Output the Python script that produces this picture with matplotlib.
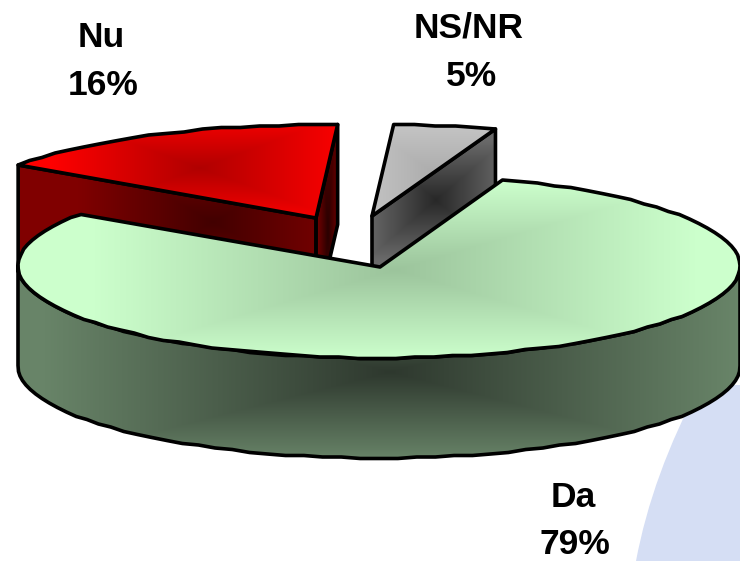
import numpy as np
import matplotlib
matplotlib.use('Agg')
import matplotlib.pyplot as plt
from matplotlib.patches import Polygon, PathPatch
from matplotlib.path import Path

categories = ['Da', 'Nu', 'NS/NR']
percent_labels = [79, 16, 5]
slice_sizes = [79.0, 16.4, 4.6]

plt.rcParams['font.family'] = ['Liberation Sans', 'DejaVu Sans']

RX, RY, DEPTH = 361, 92, 100
LW = 2.6
START = 70
CENTERS = {'Da': (379, 266), 'Nu': (316, 217), 'NS/NR': (372, 216)}
LABEL_POS = {'Da': (573, 497), 'Nu': (101, 37), 'NS/NR': (469, 28)}

fig = plt.figure(figsize=(7.4, 5.61), dpi=100)
ax = fig.add_axes([0, 0, 1, 1])
ax.set_xlim(0, 740)
ax.set_ylim(561, 0)
ax.axis('off')

xx, yy = np.meshgrid(np.arange(740) + 0.5, np.arange(561) + 0.5)


def rim(cx, cy, t0, t1):
    # rim of the tilted disc, y snapped a little for the slightly stepped outline
    n = max(2, int(abs(t1 - t0) / 3))
    t = np.radians(np.linspace(t0, t1, n + 1))
    y = cy - RY * np.sin(t)
    return np.column_stack([cx + RX * np.cos(t), np.round(y / 1.5) * 1.5])


def shaded(points, center, rx, ry, inner, outer, z):
    # rectangular gradient from center to the box edges, clipped to the polygon
    d = np.maximum(np.abs(xx - center[0]) / rx, np.abs(yy - center[1]) / ry)
    d = np.clip(d, 0, 1)[..., None]
    c0 = np.array(matplotlib.colors.to_rgb(inner))
    c1 = np.array(matplotlib.colors.to_rgb(outer))
    im = ax.imshow(c0 + (c1 - c0) * d, extent=(0, 740, 561, 0), aspect='auto',
                   zorder=z, interpolation='bilinear')
    patch = Polygon(points, closed=True, fc='none', ec='black', lw=LW,
                    joinstyle='round', zorder=z + 0.1)
    ax.add_patch(patch)
    im.set_clip_path(patch)


# light blue shape behind the chart
verts = [(636, 561), (652, 475), (700, 385), (760, 385), (760, 561), (636, 561)]
codes = [Path.MOVETO, Path.CURVE3, Path.CURVE3, Path.LINETO, Path.LINETO, Path.CLOSEPOLY]
ax.add_patch(PathPatch(Path(verts, codes), fc='#D5DEF4', ec='none', zorder=1))

# wedge angles run clockwise from START
angles = START - np.cumsum([0] + [s * 3.6 for s in slice_sizes])
da0, da1 = angles[0], angles[1]
nu0, nu1 = angles[1], angles[2]
ns0, ns1 = angles[2], angles[3]
down = np.array([0, DEPTH])

# Nu slice
cx, cy = CENTERS['Nu']
r = rim(cx, cy, nu0, nu1)
apex = np.array([cx, cy + 1])
shaded([r[0], apex, apex + down, r[0] + down], (213, 222), 135, 75, '#420000', '#800000', 2)
shaded([apex, r[-1], r[-1] + down, apex + down], (328, 230), 13, 200, '#2A0000', '#800000', 2)
shaded(np.vstack([apex, r]), (200, 168), 150, 55, '#B00000', '#FF0000', 3)

# NS/NR slice
cx, cy = CENTERS['NS/NR']
r = rim(cx, cy, ns0, ns1)
apex = np.array([cx, cy])
shaded([apex, r[-1], r[-1] + down, apex + down], (436, 200), 70, 60, '#282828', '#6A6A6A', 2)
shaded(np.vstack([apex, r]), (430, 170), 70, 48, '#AEAEAE', '#C6C6C6', 3)

# Da slice, drawn last since it sits in front
cx, cy = CENTERS['Da']
front = rim(cx, cy, 180, 360)
side = np.vstack([front, (front + down)[::-1]])
shaded(side, (390, 372), 345, 88, '#2E382E', '#688468', 5)
top = np.vstack([[cx + 1, cy + 1], rim(cx, cy, da0, da1)])
shaded(top, (395, 270), 300, 88, '#9CC49C', '#CCFFCC', 6)

for name, pct in zip(categories, percent_labels):
    x, y = LABEL_POS[name]
    ax.text(x, y, name, ha='center', va='center', fontsize=25.5, fontweight='bold', zorder=9)
    ax.text(x + 2, y + 48, f'{pct}%', ha='center', va='center', fontsize=25.5,
            fontweight='bold', zorder=9)

fig.savefig('out.png', dpi=100)
